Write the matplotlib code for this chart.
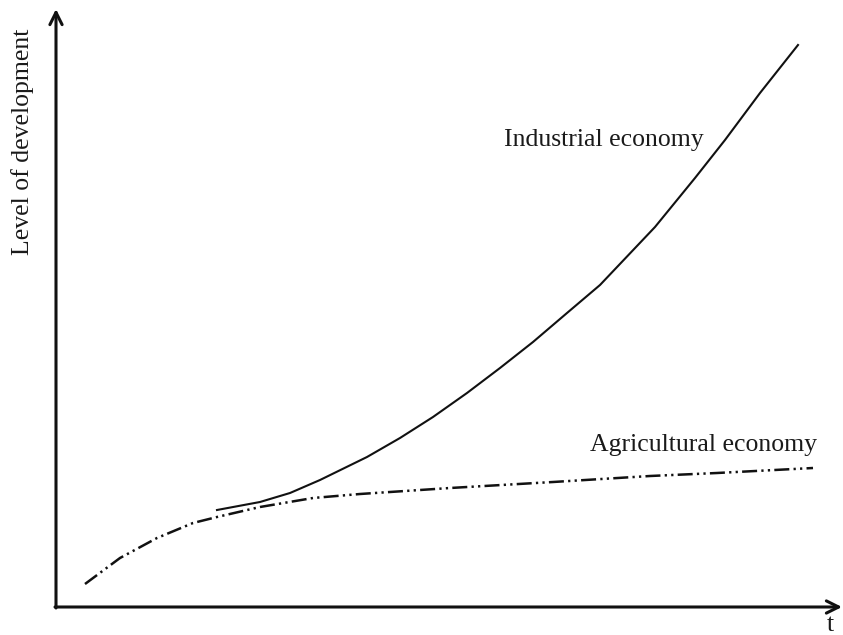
import matplotlib.pyplot as plt

plt.rcParams['font.family'] = ['Liberation Serif', 'DejaVu Serif']

# time axis and level of development (arbitrary units)
agri_t = [2.9, 6.4, 10.1, 13.7, 16.1, 20.4, 25.7, 30.4, 39.4, 49.7, 59.4, 66.1, 75.7]
agri_level = [2.3, 4.9, 6.9, 8.4, 9.0, 10.0, 10.9, 11.3, 11.9, 12.5, 13.1, 13.4, 13.9]

ind_t = [16.1, 20.4, 23.4, 26.4, 31.1, 34.4, 37.7, 41.1, 44.4, 47.7,
         51.1, 54.4, 59.9, 63.9, 66.9, 70.4, 74.2]
ind_level = [9.7, 10.5, 11.4, 12.7, 15.0, 16.9, 19.0, 21.4, 23.9, 26.5,
             29.4, 32.2, 38.0, 42.9, 46.7, 51.4, 56.2]

fig = plt.figure(figsize=(8.43, 6.35), dpi=100)
ax = fig.add_axes([0, 0, 1, 1])
ax.set_xlim(-5.6, 78.7)
ax.set_ylim(-2.8, 60.7)
ax.axis('off')

# axes with arrows
arrow = dict(arrowstyle='->', lw=2.2, color='#111111', mutation_scale=22,
             shrinkA=0, shrinkB=0)
ax.annotate('', xy=(0, 59.8), xytext=(0, -0.1), arrowprops=arrow)
ax.annotate('', xy=(78.6, 0), xytext=(-0.1, 0), arrowprops=arrow)

ax.plot(agri_t, agri_level, color='#111111', lw=1.8,
        linestyle=(0, (6, 1.7, 0.9, 1.7, 0.9, 1.7)))
ax.plot(ind_t, ind_level, color='#111111', lw=1.5)

txt = '#1a1a1a'
ax.text(54.8, 46.7, 'Industrial economy', fontsize=18.5, ha='center', va='center', color=txt)
ax.text(64.8, 16.2, 'Agricultural economy', fontsize=18.5, ha='center', va='center', color=txt)
ax.text(-3.3, 46.5, 'Level of development', fontsize=18.5, rotation=90,
        ha='center', va='center', color=txt)
ax.text(77.4, -1.8, 't', fontsize=18.5, ha='center', va='center', color=txt)

fig.savefig('out.png', dpi=100)
